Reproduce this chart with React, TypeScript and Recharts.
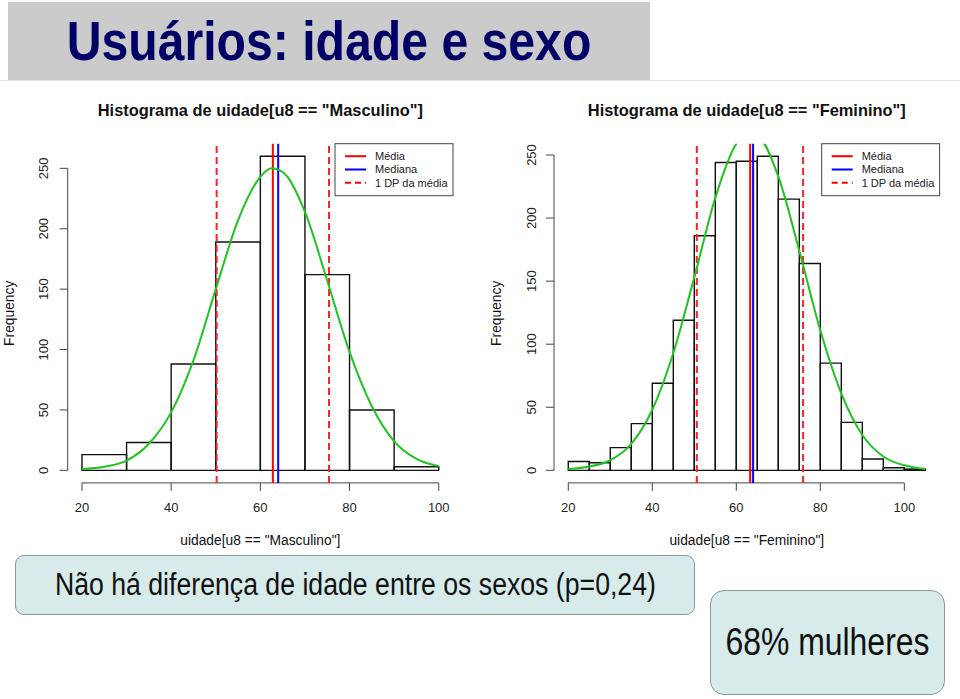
import React from 'react';
import {
  ComposedChart,
  Line,
  XAxis,
  YAxis,
  ReferenceArea,
  ReferenceLine
} from 'recharts';

// histograma masculino (classes de 10 anos)
const maleBreaks = [20, 30, 40, 50, 60, 70, 80, 90, 100];
const maleCounts = [13, 23, 88, 189, 260, 162, 50, 3];
// curva normal
const maleCurveX = [20, 25, 30, 35, 40, 45, 50, 55, 60, 62.5, 65, 70, 75, 80, 85, 90, 95, 100];
const maleCurveY = [1, 3, 8, 22, 48, 91, 150, 207, 243, 250, 247, 214, 157, 98, 53, 24, 9.5, 3.5];
// média, mediana, média - 1 DP, média + 1 DP
const maleStats = [62.8, 64, 50.2, 75.4];

// histograma feminino (classes de 5 anos)
const femaleBreaks = [20, 25, 30, 35, 40, 45, 50, 55, 60, 65, 70, 75, 80, 85, 90, 95, 100, 105];
const femaleCounts = [7, 6, 18, 37, 69, 119, 186, 244, 245, 249, 215, 164, 85, 38, 9, 2, 1];
const femaleCurveX = [20, 25, 30, 35, 40, 45, 50, 55, 60, 63, 65, 70, 75, 80, 85, 90, 95, 100, 105];
const femaleCurveY = [1, 3, 8, 21, 48, 93, 153, 216, 259, 268, 266, 233, 174, 111, 61, 28, 11, 4, 1];
const femaleStats = [63.3, 64, 50.6, 75.9];

const xTicks = [20, 40, 60, 80, 100];
const yTicks = [0, 50, 100, 150, 200, 250];
const legendLabels = ['Média', 'Mediana', '1 DP da média'];

const R_FONT = "'Liberation Sans', Arial, Helvetica, sans-serif";
const SLIDE_FONT = "'Liberation Sans', Arial, sans-serif";
const GREEN = '#1fc41f';
const AXIS = '#444';

const RotatedTick = ({ x, y, payload }: any) => (
  <text
    x={x}
    y={y}
    transform={`rotate(-90, ${x}, ${y})`}
    textAnchor="middle"
    fontSize={13}
    fill="#222"
    fontFamily={R_FONT}
  >
    {payload.value}
  </text>
);

type HistProps = {
  left: number;
  width: number;
  margin: { top: number; right: number; bottom: number; left: number };
  breaks: number[];
  counts: number[];
  curveX: number[];
  curveY: number[];
  stats: number[];
  title: string;
  xLabel: string;
  yTickMargin: number;
  freqX: number;
  legendX: number;
};

const CHART_H = 560;

const Histogram = (p: HistProps) => {
  const lo = p.breaks[0];
  const hi = p.breaks[p.breaks.length - 1];
  const maxCount = Math.max(...p.counts);
  // mesma expansão de 4% usada pelo R
  const xDomain = [lo - (hi - lo) * 0.04, hi + (hi - lo) * 0.04];
  const yDomain = [-maxCount * 0.04, maxCount * 1.04];
  const curve = p.curveX.map((x, i) => ({ x, y: p.curveY[i] }));
  const plotLeft = p.margin.left + 30;
  const plotRight = p.width - p.margin.right;
  const plotTop = p.margin.top;
  const plotBottom = CHART_H - p.margin.bottom - 30;
  const cx = (plotLeft + plotRight) / 2;
  const [mean, median, lower, upper] = p.stats;

  return (
    <div style={{ position: 'absolute', left: p.left, top: 0, width: p.width, height: CHART_H }}>
      <ComposedChart width={p.width} height={CHART_H} data={curve} margin={p.margin}>
        <XAxis
          type="number"
          dataKey="x"
          domain={xDomain}
          allowDataOverflow
          ticks={xTicks}
          height={30}
          axisLine={false}
          tickSize={8}
          tickMargin={12}
          tickLine={{ stroke: AXIS }}
          tick={{ fill: '#222', fontSize: 13, fontFamily: R_FONT }}
        />
        <YAxis
          type="number"
          domain={yDomain}
          allowDataOverflow
          ticks={yTicks}
          width={30}
          axisLine={false}
          tickSize={8}
          tickMargin={p.yTickMargin}
          tickLine={{ stroke: AXIS }}
          tick={<RotatedTick />}
        />
        {p.counts.map((c, i) => (
          <ReferenceArea
            key={`bin-${i}`}
            x1={p.breaks[i]}
            x2={p.breaks[i + 1]}
            y1={0}
            y2={c}
            fill="none"
            stroke="#111"
            strokeWidth={1.4}
            ifOverflow="visible"
          />
        ))}
        <ReferenceLine
          segment={[{ x: lo, y: yDomain[0] }, { x: xTicks[xTicks.length - 1], y: yDomain[0] }]}
          stroke={AXIS}
          ifOverflow="visible"
        />
        <ReferenceLine
          segment={[{ x: xDomain[0], y: 0 }, { x: xDomain[0], y: yTicks[yTicks.length - 1] }]}
          stroke={AXIS}
          ifOverflow="visible"
        />
        <ReferenceLine x={lower} stroke="#f0262a" strokeWidth={2} strokeDasharray="7 4" />
        <ReferenceLine x={upper} stroke="#f0262a" strokeWidth={2} strokeDasharray="7 4" />
        <ReferenceLine x={mean} stroke="#ff0000" strokeWidth={2} />
        <ReferenceLine x={median} stroke="#0000ff" strokeWidth={2} />
        <Line
          dataKey="y"
          type="monotone"
          stroke={GREEN}
          strokeWidth={2}
          dot={false}
          activeDot={false}
          isAnimationActive={false}
        />
      </ComposedChart>
      <svg
        width={p.width}
        height={CHART_H}
        style={{ position: 'absolute', left: 0, top: 0, pointerEvents: 'none' }}
        fontFamily={R_FONT}
      >
        <text x={cx} y={116} textAnchor="middle" fontSize={16.4} fontWeight="bold" fill="#111">
          {p.title}
        </text>
        <text x={cx} y={545} textAnchor="middle" fontSize={13.8} fill="#111">
          {p.xLabel}
        </text>
        <text
          x={p.freqX}
          y={(plotTop + plotBottom) / 2}
          transform={`rotate(-90, ${p.freqX}, ${(plotTop + plotBottom) / 2})`}
          textAnchor="middle"
          fontSize={13.8}
          fill="#111"
        >
          Frequency
        </text>
        <g>
          <rect x={p.legendX} y={plotTop} width={plotRight - p.legendX} height={52} fill="#fff" stroke={AXIS} />
          {legendLabels.map((lab, i) => (
            <g key={lab}>
              <line
                x1={p.legendX + 10}
                x2={p.legendX + 31}
                y1={plotTop + 12.5 + i * 13.3}
                y2={plotTop + 12.5 + i * 13.3}
                stroke={i === 1 ? '#0000ff' : '#ff0000'}
                strokeWidth={2}
                strokeDasharray={i === 2 ? '6 4' : undefined}
              />
              <text x={p.legendX + 40} y={plotTop + 16.3 + i * 13.3} fontSize={11} fill="#222">
                {lab}
              </text>
            </g>
          ))}
        </g>
      </svg>
    </div>
  );
};

const boxStyle: React.CSSProperties = {
  position: 'absolute',
  background: '#d7ebea',
  border: '1px solid #8d9898',
  display: 'flex',
  alignItems: 'center',
  justifyContent: 'center',
  fontFamily: SLIDE_FONT,
  color: '#111',
  boxSizing: 'border-box'
};

// texto estreito (tipo Arial Narrow) feito com escala horizontal
const Narrow = ({ k, children }: { k: number; children: React.ReactNode }) => (
  <span style={{ display: 'inline-block', whiteSpace: 'nowrap', transform: `scaleX(${k})`, transformOrigin: 'center' }}>
    {children}
  </span>
);

export default function App() {
  return (
    <div
      style={{
        position: 'absolute',
        left: 0,
        top: 0,
        width: 960,
        height: 699,
        background: '#fff',
        overflow: 'hidden'
      }}
    >
      <div style={{ position: 'absolute', left: 0, top: 80, width: 960, height: 1, background: '#e4e4e4' }} />
      <div
        style={{
          position: 'absolute',
          left: 8,
          top: 2,
          width: 642,
          height: 78,
          background: '#cbcbcb',
          display: 'flex',
          alignItems: 'center',
          justifyContent: 'center',
          lineHeight: '78px',
          fontFamily: SLIDE_FONT,
          fontWeight: 'bold',
          fontSize: 56,
          color: '#000066'
        }}
      >
        <Narrow k={0.86}>Usuários: idade e sexo</Narrow>
      </div>

      <Histogram
        left={0}
        width={470}
        margin={{ top: 143.7, right: 17, bottom: 47.1, left: 37.7 }}
        breaks={maleBreaks}
        counts={maleCounts}
        curveX={maleCurveX}
        curveY={maleCurveY}
        stats={maleStats}
        title={'Histograma de uidade[u8 == "Masculino"]'}
        xLabel={'uidade[u8 == "Masculino"]'}
        yTickMargin={11.5}
        freqX={13.7}
        legendX={335}
      />
      <Histogram
        left={480}
        width={480}
        margin={{ top: 143.7, right: 20.4, bottom: 47.1, left: 44 }}
        breaks={femaleBreaks}
        counts={femaleCounts}
        curveX={femaleCurveX}
        curveY={femaleCurveY}
        stats={femaleStats}
        title={'Histograma de uidade[u8 == "Feminino"]'}
        xLabel={'uidade[u8 == "Feminino"]'}
        yTickMargin={9.5}
        freqX={21.3}
        legendX={341.7}
      />

      <div style={{ ...boxStyle, left: 15, top: 555, width: 680, height: 60, borderRadius: 9, fontSize: 31 }}>
        <Narrow k={0.86}>Não há diferença de idade entre os sexos (p=0,24)</Narrow>
      </div>
      <div style={{ ...boxStyle, left: 710, top: 590, width: 235, height: 105, borderRadius: 14, fontSize: 38 }}>
        <Narrow k={0.84}>68% mulheres</Narrow>
      </div>
    </div>
  );
}
